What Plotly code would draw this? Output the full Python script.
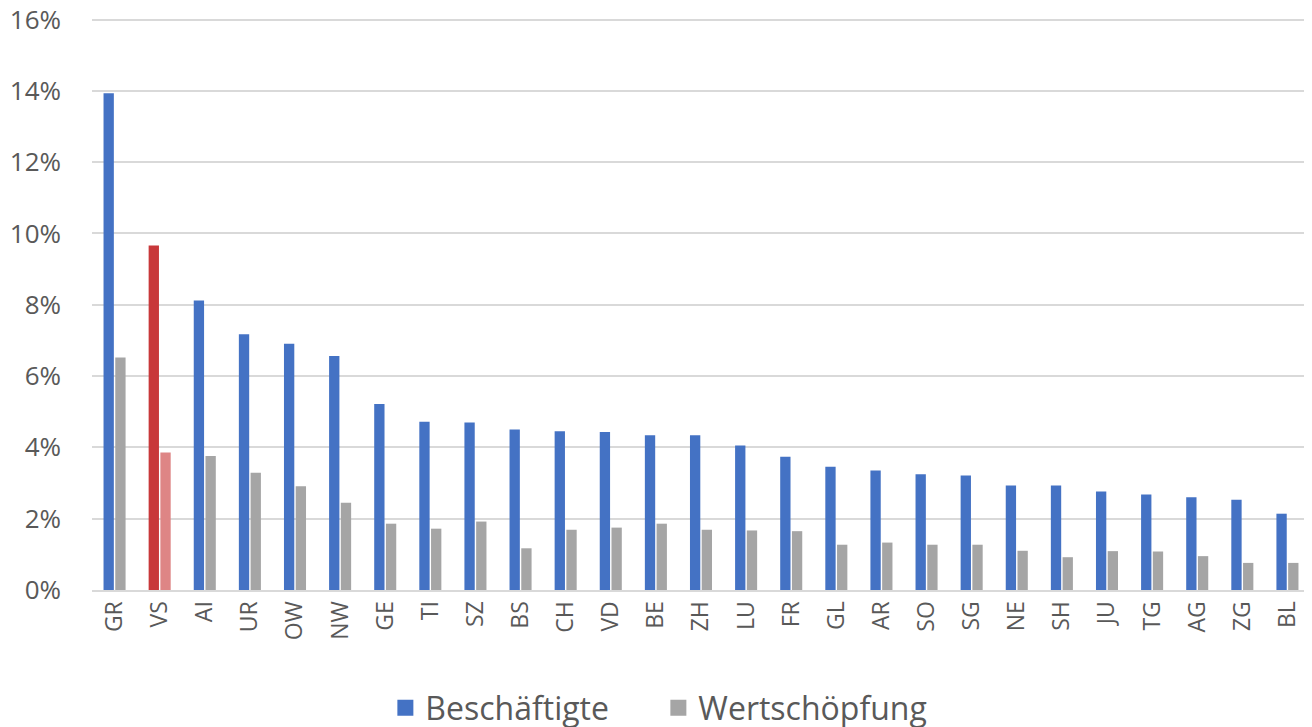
import plotly.graph_objects as go

cantons = ["GR", "VS", "AI", "UR", "OW", "NW", "GE", "TI", "SZ", "BS", "CH", "VD", "BE", "ZH",
           "LU", "FR", "GL", "AR", "SO", "SG", "NE", "SH", "JU", "TG", "AG", "ZG", "BL"]
beschaeftigte = [13.93, 9.66, 8.12, 7.17, 6.91, 6.56, 5.22, 4.72, 4.70, 4.50, 4.45, 4.43, 4.34, 4.34,
                 4.05, 3.74, 3.46, 3.35, 3.25, 3.21, 2.93, 2.93, 2.76, 2.68, 2.60, 2.53, 2.14]
wertschoepfung = [6.52, 3.86, 3.76, 3.29, 2.91, 2.45, 1.86, 1.72, 1.92, 1.17, 1.69, 1.75, 1.86, 1.69,
                  1.67, 1.65, 1.27, 1.33, 1.27, 1.27, 1.10, 0.92, 1.09, 1.08, 0.95, 0.76, 0.76]
y_ticks = [0, 2, 4, 6, 8, 10, 12, 14, 16]

BLUE, GRAY, RED, PINK = "#4472C4", "#A5A5A5", "#C8383A", "#DE8585"
blue_colors = [RED if c == "VS" else BLUE for c in cantons]
gray_colors = [PINK if c == "VS" else GRAY for c in cantons]

fig = go.Figure()
fig.add_trace(go.Bar(name="Beschäftigte", x=cantons, y=[v / 100 for v in beschaeftigte],
                     marker=dict(color=blue_colors, line=dict(width=0)),
                     legendgroup="b", showlegend=False))
fig.add_trace(go.Bar(name="Wertschöpfung", x=cantons, y=[v / 100 for v in wertschoepfung],
                     marker=dict(color=gray_colors, line=dict(width=0)),
                     legendgroup="w", showlegend=False))
# legend entries with larger square symbols
fig.add_trace(go.Scatter(name="Beschäftigte", x=[None], y=[None], mode="markers", legendgroup="b",
                         marker=dict(symbol="square", size=16, color=BLUE, line=dict(width=0))))
fig.add_trace(go.Scatter(name="Wertschöpfung", x=[None], y=[None], mode="markers", legendgroup="w",
                         marker=dict(symbol="square", size=16, color=GRAY, line=dict(width=0))))

# page body has an 8px default margin, so the figure is sized 1304x719
fig.update_layout(
    width=1304, height=719,
    margin=dict(l=84, r=2, t=8, b=137, autoexpand=False),
    paper_bgcolor="white", plot_bgcolor="white",
    barmode="group", bargap=0.48, bargroupgap=0.12,
    font=dict(family="Open Sans, Liberation Sans, sans-serif", color="#595959", size=24),
    showlegend=True,
    legend=dict(orientation="h", x=0.465, xanchor="center", y=-0.2056, yanchor="middle",
                font=dict(size=32, color="#595959"), itemwidth=30, traceorder="normal",
                entrywidth=228, entrywidthmode="pixels"),
    xaxis=dict(tickangle=-90, showgrid=False, showline=True, linecolor="#D9D9D9", linewidth=2,
               ticks="", tickfont=dict(size=23), automargin=False),
    yaxis=dict(range=[0, 0.161], tickvals=[t / 100 for t in y_ticks],
               ticktext=[f"{t}%" for t in y_ticks], showgrid=True, gridcolor="#D9D9D9",
               gridwidth=1.5, zeroline=False, ticks="", tickfont=dict(size=26),
               ticklabelstandoff=30, automargin=False, ticklabeloverflow="allow"),
)

fig.write_html("out.html")
